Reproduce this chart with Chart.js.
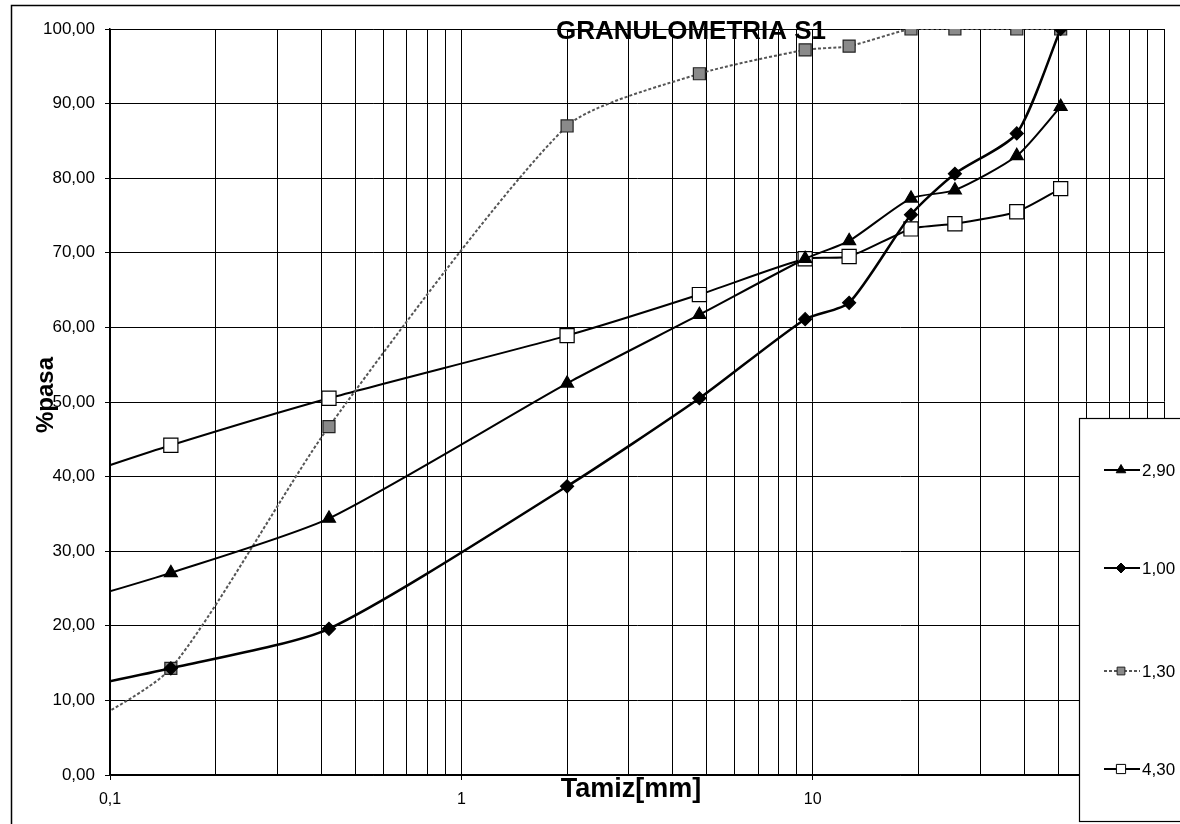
<!DOCTYPE html>
<html>
<head>
<meta charset="utf-8">
<script src="https://cdn.jsdelivr.net/npm/chart.js@4.4.1/dist/chart.umd.min.js"></script>
<style>
html,body{margin:0;padding:0;background:#fff;}
canvas{display:block;}
</style>
</head>
<body>
<canvas id="c" width="1180" height="824"></canvas>
<script>
// Sieve sizes (mm)
const sizes = [0.074, 0.149, 0.42, 2.0, 4.76, 9.52, 12.7, 19.05, 25.4, 38.1, 50.8];
// % passing per series
const s290 = [22.8, 27.1, 34.4, 52.5, 61.7, 69.2, 71.6, 77.3, 78.4, 83.0, 89.6];
const s100 = [11.3, 14.3, 19.6, 38.7, 50.5, 61.1, 63.3, 75.1, 80.6, 86.0, 100.0];
const s130 = [5.0, 14.3, 46.7, 87.0, 94.0, 97.2, 97.7, 100.0, 100.0, 100.0, 100.0];
const s430 = [39.5, 44.2, 50.5, 58.9, 64.4, 69.2, 69.5, 73.2, 73.9, 75.5, 78.6];
const seriesLabels = ['2,90', '1,00', '1,30', '4,30'];
const xTickValues = [0.1,0.2,0.3,0.4,0.5,0.6,0.7,0.8,0.9,1,2,3,4,5,6,7,8,9,10,20,30,40,50,60,70,80,90,100];
const xTickLabels = {0.1:'0,1', 1:'1', 10:'10'};
const chartTitle = 'GRANULOMETRIA S1';
const xTitle = 'Tamiz[mm]';
const yTitle = '%pasa';

const FONT = '"Liberation Sans", Arial, sans-serif';
const toPts = arr => sizes.map((x, i) => ({x: x, y: arr[i]}));

const styles = [
  {pointStyle:'triangle', radius:7.5, bg:'#000', border:'#000', line:'#000', dash:[], lw:2},
  {pointStyle:'rectRot', radius:6.5, bg:'#000', border:'#000', line:'#000', dash:[], lw:2.5},
  {pointStyle:'rect', radius:8.5, bg:'#8a8a8a', border:'#222', line:'#555', dash:[3,2], lw:2},
  {pointStyle:'rect', radius:10, bg:'#fff', border:'#000', line:'#000', dash:[], lw:2}
];
const allData = [s290, s100, s130, s430];

const datasets = allData.map((arr, i) => ({
  label: seriesLabels[i],
  data: toPts(arr),
  borderColor: styles[i].line,
  borderWidth: styles[i].lw,
  borderDash: styles[i].dash,
  pointStyle: styles[i].pointStyle,
  pointRadius: styles[i].radius,
  pointBackgroundColor: styles[i].bg,
  pointBorderColor: styles[i].border,
  pointBorderWidth: 1.2,
  tension: 0.22,
  fill: false
}));

function drawMarker(ctx, st, x, y, r) {
  ctx.save();
  ctx.fillStyle = st.bg; ctx.strokeStyle = st.border; ctx.lineWidth = 1;
  ctx.setLineDash([]);
  ctx.beginPath();
  if (st.pointStyle === 'triangle') {
    ctx.moveTo(x, y - r);
    ctx.lineTo(x + r*0.87, y + r*0.5);
    ctx.lineTo(x - r*0.87, y + r*0.5);
    ctx.closePath();
  } else if (st.pointStyle === 'rectRot') {
    ctx.moveTo(x - r, y); ctx.lineTo(x, y - r); ctx.lineTo(x + r, y); ctx.lineTo(x, y + r);
    ctx.closePath();
  } else {
    const s = r*0.707;
    ctx.rect(x - s, y - s, 2*s, 2*s);
  }
  ctx.fill(); ctx.stroke();
  ctx.restore();
}

const decor = {
  id: 'decor',
  beforeDraw(chart) {
    const ctx = chart.ctx;
    ctx.save();
    ctx.fillStyle = '#fff';
    ctx.fillRect(0, 0, chart.width, chart.height);
    ctx.strokeStyle = '#000'; ctx.lineWidth = 1.5;
    ctx.strokeRect(11.5, 5.5, 1200, 900);
    ctx.restore();
  },
  afterDraw(chart) {
    const ctx = chart.ctx;
    ctx.save();
    ctx.fillStyle = '#000';
    ctx.textAlign = 'center'; ctx.textBaseline = 'middle';
    ctx.font = 'bold 26px ' + FONT;
    ctx.fillText(chartTitle, 691, 32);
    ctx.font = 'bold 27px ' + FONT;
    ctx.fillText(xTitle, 631, 790);
    ctx.save();
    ctx.translate(46, 395);
    ctx.rotate(-Math.PI/2);
    ctx.font = 'bold 24px ' + FONT;
    ctx.fillText(yTitle, 0, 0);
    ctx.restore();
    // legend box
    ctx.fillStyle = '#fff';
    ctx.fillRect(1079.5, 418.5, 120, 403);
    ctx.strokeStyle = '#000'; ctx.lineWidth = 1.2;
    ctx.strokeRect(1079.5, 418.5, 120, 403);
    const ys = [470, 568, 671, 769];
    const lr = [5.5, 5, 5.5, 6.5];
    ys.forEach((y, i) => {
      const st = styles[i];
      ctx.save();
      ctx.strokeStyle = st.line; ctx.lineWidth = 1.8;
      ctx.setLineDash(st.dash);
      ctx.beginPath(); ctx.moveTo(1104, y); ctx.lineTo(1140, y); ctx.stroke();
      ctx.restore();
      drawMarker(ctx, st, 1121, y, lr[i]);
      ctx.fillStyle = '#000';
      ctx.font = '17px ' + FONT;
      ctx.textAlign = 'left'; ctx.textBaseline = 'middle';
      ctx.fillText(seriesLabels[i], 1142, y + 1);
    });
    ctx.restore();
  }
};

const isPow10 = v => [0.1, 1, 10, 100].some(p => Math.abs(v - p) < 1e-9);

new Chart(document.getElementById('c'), {
  type: 'line',
  data: { datasets: datasets },
  options: {
    responsive: false,
    animation: false,
    devicePixelRatio: 1,
    layout: { padding: { top: 29, right: 16, bottom: 0, left: 0 } },
    plugins: { legend: { display: false }, title: { display: false }, tooltip: { enabled: false } },
    scales: {
      x: {
        type: 'logarithmic',
        min: 0.1, max: 100,
        afterBuildTicks: scale => { scale.ticks = xTickValues.map(v => ({ value: v, major: isPow10(v) })); },
        afterFit: scale => { scale.height = 49; },
        ticks: {
          autoSkip: false, maxRotation: 0, minRotation: 0, padding: 10,
          color: '#000', font: { size: 16, family: FONT },
          callback: v => (xTickLabels[v] !== undefined ? xTickLabels[v] : '')
        },
        grid: {
          color: '#000', lineWidth: 1, tickLength: 5,
          tickColor: ctx => (ctx.tick && isPow10(ctx.tick.value)) ? '#000' : 'rgba(0,0,0,0)'
        },
        border: { color: '#000', width: 1.5 }
      },
      y: {
        min: 0, max: 100,
        afterFit: scale => { scale.width = 110; },
        ticks: {
          stepSize: 10, padding: 10, color: '#000',
          font: { size: 17, family: FONT },
          callback: v => v.toFixed(2).replace('.', ',')
        },
        grid: { color: '#000', lineWidth: 1, tickLength: 5, tickColor: '#000' },
        border: { color: '#000', width: 1.5 }
      }
    }
  },
  plugins: [decor]
});
</script>
</body>
</html>
